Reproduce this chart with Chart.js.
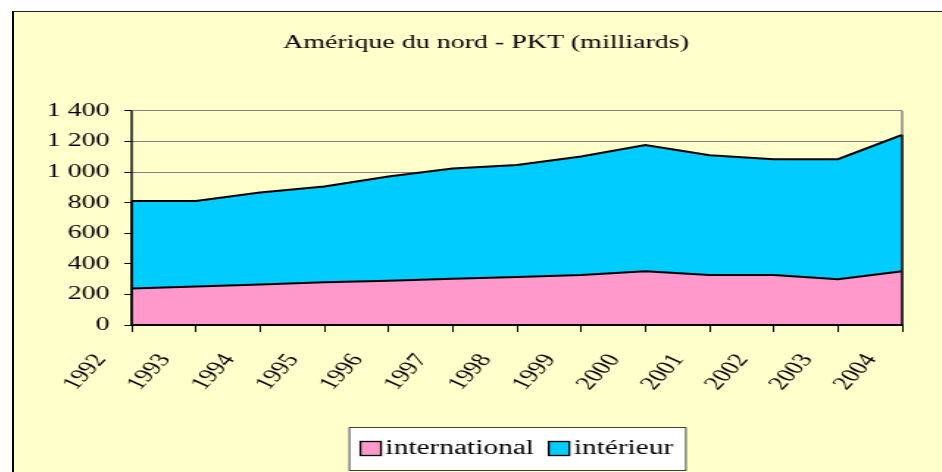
<!DOCTYPE html>
<html>
<head>
<meta charset="utf-8">
<script src="https://cdn.jsdelivr.net/npm/chart.js@4.4.1/dist/chart.umd.min.js"></script>
<style>
    html, body { margin: 0; padding: 0; background: #fff; overflow: hidden; }
    #frame {
        position: absolute; left: 12px; top: 11px;
        width: 944px; height: 470px;
        background: #FFFFCC;
        border-left: 2px solid #000; border-top: 1px solid #222;
    }
    /* the original renders its fonts wide, so the whole chart is stretched sideways */
    #stretch { width: 642px; height: 460px; transform: scaleX(1.4704); transform-origin: 0 0; }
</style>
</head>
<body>
<div id="frame"><div id="stretch"><canvas id="chart" width="642" height="460"></canvas></div></div>
<script>
// Data (milliards de passagers-km)
const years = ['1992', '1993', '1994', '1995', '1996', '1997', '1998', '1999', '2000', '2001', '2002', '2003', '2004'];
const international = [238, 251, 264, 279, 290, 303, 314, 327, 351, 327, 327, 299, 351];
const interieur = [573, 559, 602, 626, 680, 720, 732, 774, 826, 783, 757, 785, 892];
const seriesNames = ['international', 'intérieur'];
const seriesColors = ['#FF99CC', '#00CCFF'];
const yMin = 0;
const yMax = 1400;
const yStep = 200;

const SERIF = "'Liberation Serif', 'Times New Roman', serif";

// French thousands separator: 1400 -> "1 400"
function formatFr(value) {
    return String(value).replace(/\B(?=(\d{3})+(?!\d))/g, ' ');
}

// Grey frame on the right, black outline of the stacked area and the axis lines
const plotFrame = {
    id: 'plotFrame',
    afterDatasetsDraw(chart) {
        const { ctx, chartArea: a, scales: { y } } = chart;
        const line = (x1, y1, x2, y2) => {
            ctx.beginPath(); ctx.moveTo(x1, y1); ctx.lineTo(x2, y2); ctx.stroke();
        };
        ctx.save();
        ctx.strokeStyle = '#808080';
        ctx.lineWidth = 1.4;
        line(a.right, a.top, a.right, a.bottom);

        const topPts = chart.getDatasetMeta(chart.data.datasets.length - 1).data;
        const y0 = y.getPixelForValue(0);
        ctx.strokeStyle = '#000';
        [0, topPts.length - 1].forEach(i => line(topPts[i].x, y0, topPts[i].x, topPts[i].y));

        line(a.left, a.top, a.left, a.bottom);
        ctx.lineWidth = 2;
        line(a.left - 0.7, a.bottom, a.right + 0.7, a.bottom);
        ctx.restore();
    }
};

// Excel style legend: boxed, centred under the plot area
const boxedLegend = {
    id: 'boxedLegend',
    afterDraw(chart) {
        const { ctx, chartArea: a } = chart;
        const sq = 14, gapText = 3, gapItem = 10, pad = 8, boxH = 43;
        ctx.save();
        ctx.font = '20px ' + SERIF;
        const widths = seriesNames.map(n => ctx.measureText(n).width);
        let total = 0;
        widths.forEach((w, i) => { total += sq + gapText + w + (i ? gapItem : 0); });
        const boxW = total + pad * 2;
        const left = (a.left + a.right) / 2 - boxW / 2;
        const top = chart.height - boxH - 2;
        ctx.fillStyle = '#fff';
        ctx.fillRect(left, top, boxW, boxH);
        ctx.strokeStyle = '#404040';
        ctx.lineWidth = 1;
        ctx.strokeRect(left + 0.5, top + 0.5, boxW, boxH);

        const midY = top + boxH / 2;
        let x = left + pad;
        seriesNames.forEach((name, i) => {
            ctx.fillStyle = seriesColors[i];
            ctx.fillRect(x, midY - sq / 2, sq, sq);
            ctx.strokeStyle = '#000';
            ctx.lineWidth = 1.3;
            ctx.strokeRect(x, midY - sq / 2, sq, sq);
            x += sq + gapText;
            ctx.fillStyle = '#000';
            ctx.textBaseline = 'middle';
            ctx.textAlign = 'left';
            ctx.fillText(name, x, midY);
            x += widths[i] + gapItem;
        });
        ctx.restore();
    }
};

const ctx = document.getElementById('chart').getContext('2d');
new Chart(ctx, {
    type: 'line',
    data: {
        labels: years,
        datasets: [{
            label: seriesNames[0],
            data: international,
            backgroundColor: seriesColors[0],
            borderColor: '#000',
            borderWidth: 2,
            fill: 'origin',
            pointRadius: 0,
            tension: 0
        }, {
            label: seriesNames[1],
            data: interieur,
            backgroundColor: seriesColors[1],
            borderColor: '#000',
            borderWidth: 2,
            fill: '-1',
            pointRadius: 0,
            tension: 0
        }]
    },
    options: {
        responsive: false,
        animation: false,
        devicePixelRatio: 1,
        layout: {
            padding: { left: 0, right: 0, top: 0, bottom: 67 }
        },
        plugins: {
            legend: { display: false },
            tooltip: { enabled: false },
            title: {
                display: true,
                text: 'Amérique du nord - PKT (milliards)',
                color: '#000',
                font: { family: SERIF, size: 19, weight: 'normal' },
                padding: { top: 20, bottom: 56 }
            }
        },
        scales: {
            x: {
                grid: {
                    drawOnChartArea: false,
                    drawTicks: true,
                    tickLength: 7,
                    color: '#000'
                },
                border: { display: false },
                ticks: {
                    autoSkip: false,
                    minRotation: 56,
                    maxRotation: 56,
                    labelOffset: -21,
                    padding: 18,
                    color: '#000',
                    font: { family: SERIF, size: 19 }
                },
                afterFit(scale) { scale.height = 80; }
            },
            y: {
                stacked: true,
                min: yMin,
                max: yMax,
                grid: {
                    color: '#808080',
                    lineWidth: 1,
                    tickColor: '#000',
                    tickLength: 5
                },
                border: { display: false },
                ticks: {
                    stepSize: yStep,
                    padding: 10,
                    color: '#000',
                    font: { family: SERIF, size: 19 },
                    callback: value => formatFr(value)
                },
                afterFit(scale) { scale.width = 80; }
            },
            // empty right-hand axis: only keeps the blank margin right of the plot
            spacer: {
                position: 'right',
                min: 0,
                max: 1,
                grid: { display: false },
                border: { display: false },
                ticks: { display: false },
                afterFit(scale) { scale.width = 38; }
            }
        }
    },
    plugins: [plotFrame, boxedLegend]
});
</script>
</body>
</html>
